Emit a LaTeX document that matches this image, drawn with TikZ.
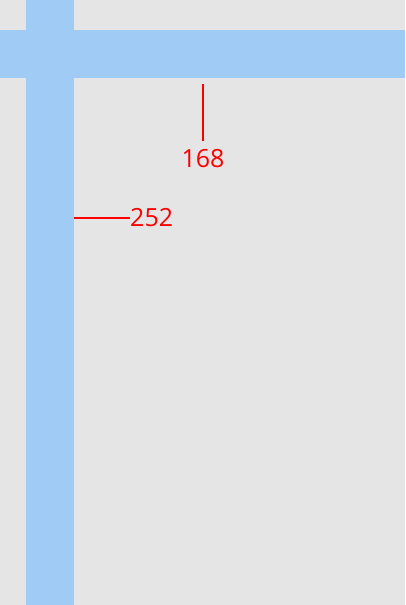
\documentclass[tikz,border=0pt]{standalone}
\usepackage{fontspec}
\setmainfont{Open Sans}
\definecolor{bgray}{HTML}{E5E5E5}
\definecolor{band}{HTML}{A0CBF5}
\definecolor{mred}{HTML}{FF0000}
\begin{document}
\begin{tikzpicture}[x=1pt,y=-1pt,
  bandfill/.style={fill=band,draw=none},
  dimline/.style={draw=mred,line width=2pt},
  dimlabel/.style={text=mred,font=\fontsize{25}{25}\selectfont,inner sep=0pt}]
\fill[bgray] (0,0) rectangle (405,605);
\useasboundingbox (0,0) rectangle (405,605);
\path[bandfill] (26,0) rectangle (74,605);
\path[bandfill] (0,30) rectangle (405,78);
\coordinate (vtop) at (203,84);
\coordinate (hleft) at (74,218);
\node[dimlabel,anchor=north] (l168) at (203,149) {168};
\node[dimlabel,anchor=west] (l252) at (130,217.5) {252};
\draw[dimline] (vtop) -- (vtop |- 0,140.5);
\draw[dimline] (hleft) -- (l252.west |- hleft);
\end{tikzpicture}
\end{document}
